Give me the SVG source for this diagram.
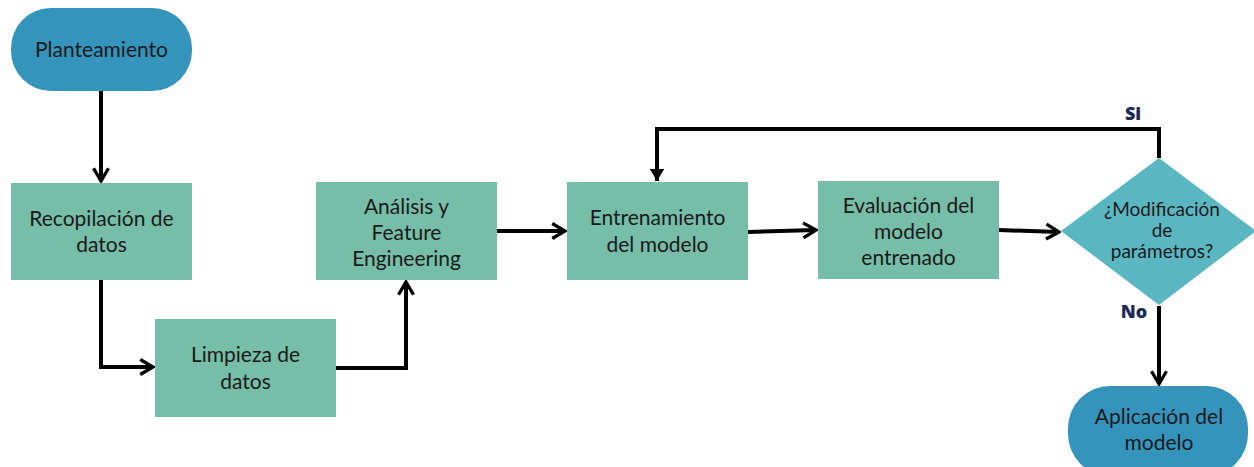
<svg xmlns="http://www.w3.org/2000/svg" width="1254" height="467" viewBox="0 0 1254 467">
  <style>
    .term { fill: #3594bc; }
    .proc { fill: #76bea8; }
    .dec { fill: #5ab7c2; }
    .lbl { font-family: Lato, "Open Sans", sans-serif; font-size: 21px; fill: #1a1a1a; text-anchor: middle; }
    .q { font-size: 19px; }
    .tag { font-family: "Open Sans", Lato, sans-serif; font-size: 18px; font-weight: 800; fill: #1b2a55; text-anchor: middle; }
    .wire { fill: none; stroke: #000; stroke-width: 4; stroke-linejoin: miter; }
  </style>
  <defs>
    <marker id="chev" viewBox="0 0 12 12" refX="10.5" refY="6" markerWidth="4.5" markerHeight="4.5" markerUnits="strokeWidth" orient="auto">
      <path d="M2,1 L10.5,6 L2,11" fill="none" stroke="#000" stroke-width="2.2"/>
    </marker>
    <marker id="tri" viewBox="0 0 12 12" refX="11" refY="6" markerWidth="3.6" markerHeight="3.6" markerUnits="strokeWidth" orient="auto">
      <path d="M1,0 L11,6 L1,12 Z" fill="#000"/>
    </marker>
  </defs>

  <g id="connectors">
    <path class="wire" d="M101,91 V181" marker-end="url(#chev)"/>
    <path class="wire" d="M101,280 V367 H153" marker-end="url(#chev)"/>
    <path class="wire" d="M336,368 H406 V282" marker-end="url(#chev)"/>
    <path class="wire" d="M497,231 H565" marker-end="url(#chev)"/>
    <path class="wire" d="M748,232 L816,230" marker-end="url(#chev)"/>
    <path class="wire" d="M999,230 L1059,232" marker-end="url(#chev)"/>
    <path class="wire" d="M1159,158 V129 H657 V181" marker-end="url(#tri)"/>
    <path class="wire" d="M1159,306 V384" marker-end="url(#chev)"/>
    <text class="tag" x="1133" y="120">Si</text>
    <text class="tag" x="1134" y="318">No</text>
  </g>

  <g id="planteamiento">
    <rect class="term" x="11" y="8" width="181" height="83" rx="40"/>
    <text class="lbl" x="101.5" y="57">Planteamiento</text>
  </g>

  <g id="recopilacion">
    <rect class="proc" x="11" y="183" width="181" height="97"/>
    <text class="lbl" x="101.5" y="226">Recopilación de</text>
    <text class="lbl" x="101.5" y="252">datos</text>
  </g>

  <g id="limpieza">
    <rect class="proc" x="155" y="319" width="181" height="98"/>
    <text class="lbl" x="245.5" y="362">Limpieza de</text>
    <text class="lbl" x="245.5" y="389">datos</text>
  </g>

  <g id="analisis">
    <rect class="proc" x="316" y="182" width="181" height="98"/>
    <text class="lbl" x="406.5" y="214">Análisis y</text>
    <text class="lbl" x="406.5" y="240">Feature</text>
    <text class="lbl" x="406.5" y="266">Engineering</text>
  </g>

  <g id="entrenamiento">
    <rect class="proc" x="567" y="182" width="181" height="98"/>
    <text class="lbl" x="657.5" y="225">Entrenamiento</text>
    <text class="lbl" x="657.5" y="252">del modelo</text>
  </g>

  <g id="evaluacion">
    <rect class="proc" x="818" y="181" width="181" height="98"/>
    <text class="lbl" x="908.5" y="213">Evaluación del</text>
    <text class="lbl" x="908.5" y="239">modelo</text>
    <text class="lbl" x="908.5" y="265">entrenado</text>
  </g>

  <g id="decision">
    <polygon class="dec" points="1159,158 1256,231 1159,305 1061,231"/>
    <text class="lbl q" x="1162" y="216">¿Modificación</text>
    <text class="lbl q" x="1162" y="237">de</text>
    <text class="lbl q" x="1162" y="258">parámetros?</text>
  </g>

  <g id="aplicacion">
    <rect class="term" x="1068" y="386" width="180" height="90" rx="42"/>
    <text class="lbl" x="1159" y="424">Aplicación del</text>
    <text class="lbl" x="1159" y="450">modelo</text>
  </g>
</svg>
